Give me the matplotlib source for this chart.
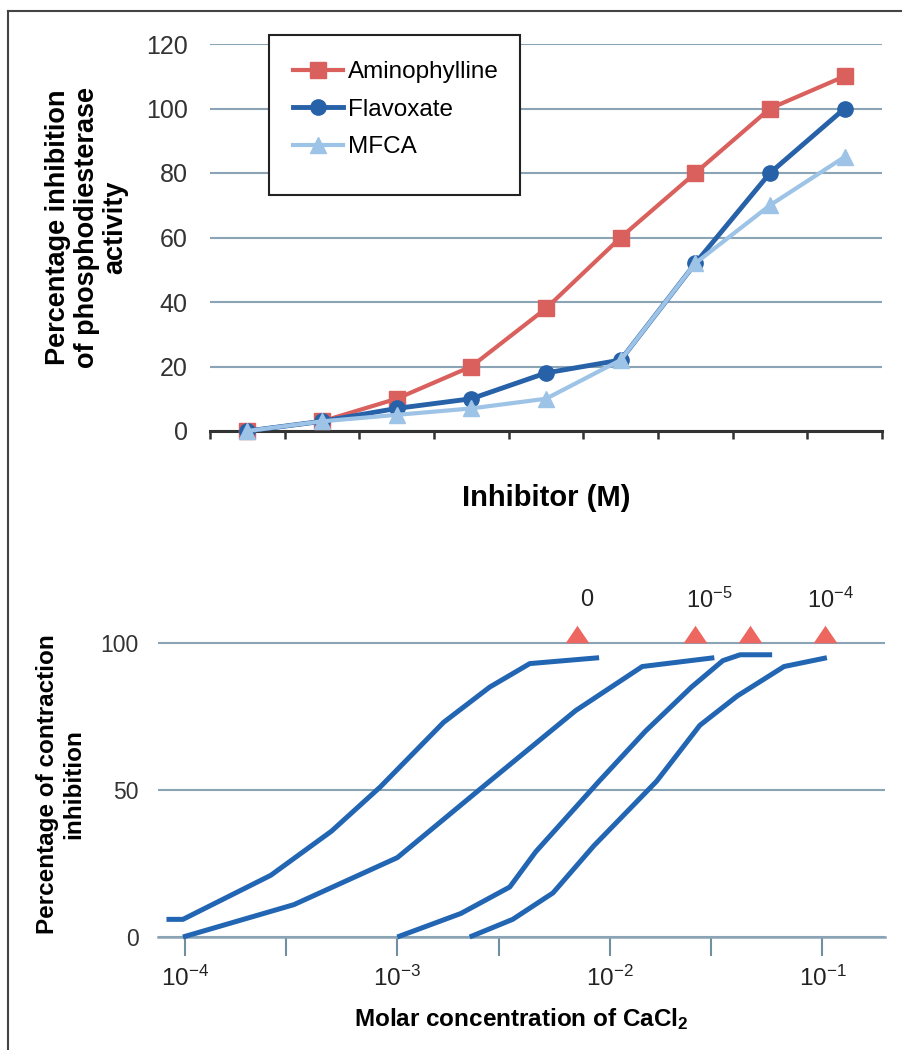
import matplotlib
matplotlib.use('Agg')
import numpy as np
import matplotlib.pyplot as plt
from matplotlib.patches import Rectangle
from matplotlib.lines import Line2D

plt.rcParams['font.family'] = ['Liberation Sans', 'DejaVu Sans']
plt.rcParams['mathtext.fontset'] = 'custom'
plt.rcParams['mathtext.rm'] = 'Liberation Sans'
plt.rcParams['mathtext.it'] = 'Liberation Sans:italic'
plt.rcParams['mathtext.bf'] = 'Liberation Sans:bold'
plt.rcParams['mathtext.default'] = 'regular'

# top panel: PDE inhibition at 9 inhibitor concentrations
doses = np.arange(9)
aminophylline = [0, 3, 10, 20, 38, 60, 80, 100, 110]
flavoxate = [0, 3, 7, 10, 18, 22, 52, 80, 100]
mfca = [0, 3, 5, 7, 10, 22, 52, 70, 85]

# bottom panel: CaCl2 dose-response curves (molar conc, % inhibition)
curve_0_x = [8.2e-5, 9.8e-5, 2.54e-4, 4.9e-4, 8.3e-4, 1.65e-3, 2.72e-3, 4.2e-3, 8.9e-3]
curve_0_y = [6, 6, 21, 36, 51, 73, 85, 93, 95]
curve_1_x = [9.8e-5, 3.26e-4, 1.0e-3, 2.72e-3, 6.9e-3, 1.42e-2, 3.1e-2]
curve_1_y = [0, 11, 27, 53, 77, 92, 95]
curve_2_x = [1.0e-3, 1.99e-3, 3.38e-3, 4.48e-3, 8.9e-3, 1.47e-2, 2.42e-2, 3.4e-2, 4.1e-2, 5.8e-2]
curve_2_y = [0, 8, 17, 29, 53, 70, 85, 94, 96, 96]
curve_3_x = [2.19e-3, 3.49e-3, 5.4e-3, 8.4e-3, 1.66e-2, 2.65e-2, 3.98e-2, 6.6e-2, 0.105]
curve_3_y = [0, 6, 15, 31, 53, 72, 82, 92, 95]
curves = [(curve_0_x, curve_0_y), (curve_1_x, curve_1_y),
          (curve_2_x, curve_2_y), (curve_3_x, curve_3_y)]

max_x = [6.98e-3, 2.52e-2, 4.57e-2, 0.103]
max_y = [103, 103, 103, 103]
conc_labels = ['0', r'10$^{-5}$', r'10$^{-4}$']
conc_label_x = [7.8e-3, 2.93e-2, 0.1086]
conc_label_y = 114.5

c_amino = '#D9605C'
c_flav = '#2761A8'
c_mfca = '#9DC3E6'
c_grid = '#8AA3B5'
c_curve = '#2266B3'
c_tri = '#EE6660'

fig = plt.figure(figsize=(9.03, 10.5), dpi=100)

# ---- top panel
ax1 = fig.add_axes([210/903, 1 - 431/1050, 672/903, 387/1050])
ax1.plot(doses, aminophylline, color=c_amino, lw=3, marker='s', ms=11, label='Aminophylline', clip_on=False, zorder=3)
ax1.plot(doses, flavoxate, color=c_flav, lw=3.5, marker='o', ms=11, label='Flavoxate', clip_on=False, zorder=4)
ax1.plot(doses, mfca, color=c_mfca, lw=3, marker='^', ms=11, label='MFCA', clip_on=False, zorder=5)
ax1.set_xlim(-0.5, 8.5)
ax1.set_ylim(0, 120)
ax1.set_yticks(np.arange(0, 121, 20))
ax1.set_xticks(np.arange(-0.5, 8.6, 1))
ax1.set_xticklabels([])
ax1.yaxis.grid(True, color=c_grid, lw=1.5)
ax1.set_axisbelow(True)
for s in ['top', 'right', 'left']:
    ax1.spines[s].set_visible(False)
ax1.spines['bottom'].set_color('#333333')
ax1.spines['bottom'].set_linewidth(2.2)
ax1.tick_params(axis='x', direction='out', length=6, width=1.8, color='#333333')
ax1.tick_params(axis='y', length=0, pad=16, labelsize=18, labelcolor='#333333')
ax1.set_ylabel('Percentage inhibition\nof phosphodiesterase\nactivity', fontsize=19.5,
               fontweight='bold', linespacing=1.15)
ax1.yaxis.set_label_coords(-0.121, 0.526)
ax1.set_xlabel('Inhibitor (M)', fontsize=21, fontweight='bold')
ax1.xaxis.set_label_coords(0.5, -0.137)

ax1.add_patch(Rectangle((269/903, 1 - 195/1050), 251/903, 160/1050, transform=fig.transFigure,
                        facecolor='white', edgecolor='#222222', lw=1.5, clip_on=False, zorder=6))
ax1.legend(loc='upper left', bbox_to_anchor=(293/903, 1 - 61/1050), bbox_transform=fig.transFigure,
           frameon=False, fontsize=17.5, handlelength=2.05, handletextpad=0.2, labelspacing=0.64,
           borderpad=0, borderaxespad=0).set_zorder(7)

# ---- bottom panel
ax2 = fig.add_axes([158/903, 113/1050, 727/903, 352.8/1050])
for cx, cy in curves:
    ax2.plot(cx, cy, color=c_curve, lw=3.6, solid_capstyle='butt', clip_on=False, zorder=3)
tri = [(-1, -0.74), (1, -0.74), (0, 0.74)]
ax2.plot(max_x, max_y, ls='none', marker=tri, ms=17, color=c_tri, mec='none', clip_on=False, zorder=4)
for lab, lx in zip(conc_labels, conc_label_x):
    ax2.text(lx, conc_label_y, lab, ha='center', va='center', fontsize=17, color='#222222')
ax2.set_xscale('log')
ax2.set_xlim(7.48e-5, 0.197)
ax2.set_ylim(0, 120)
ax2.set_yticks([0, 50, 100])
ax2.set_xticks([1e-4, 1e-3, 1e-2, 1e-1])
ax2.set_xticklabels([r'10$^{-4}$', r'10$^{-3}$', r'10$^{-2}$', r'10$^{-1}$'])
ax2.set_xticks([3e-4, 3e-3, 3e-2], minor=True)
ax2.xaxis.set_minor_formatter(plt.NullFormatter())
ax2.yaxis.grid(True, color=c_grid, lw=1.5)
ax2.set_axisbelow(True)
for s in ['top', 'right', 'left']:
    ax2.spines[s].set_visible(False)
ax2.spines['bottom'].set_color(c_grid)
ax2.spines['bottom'].set_linewidth(1.8)
ax2.tick_params(axis='x', which='both', direction='out', length=14, width=1.5, color='#7090A0',
                pad=7, labelsize=17.5, labelcolor='#222222')
ax2.tick_params(axis='y', length=0, pad=14, labelsize=16.5, labelcolor='#333333')
ax2.set_ylabel('Percentage of contraction\ninhibition', fontsize=17.5, fontweight='bold', linespacing=1.15)
ax2.yaxis.set_label_coords(-0.1004, 0.4337)
ax2.set_xlabel(r'Molar concentration of CaCl$_\mathbf{2}$', fontsize=17.5, fontweight='bold')
ax2.xaxis.set_label_coords(0.5, -0.197)

# figure frame (top and left edges only)
fig.add_artist(Line2D([8/903, 1], [1 - 11/1050, 1 - 11/1050], color='#444444', lw=1.5))
fig.add_artist(Line2D([8/903, 8/903], [0, 1 - 11/1050], color='#444444', lw=1.5))

fig.savefig('out.png', dpi=100)
